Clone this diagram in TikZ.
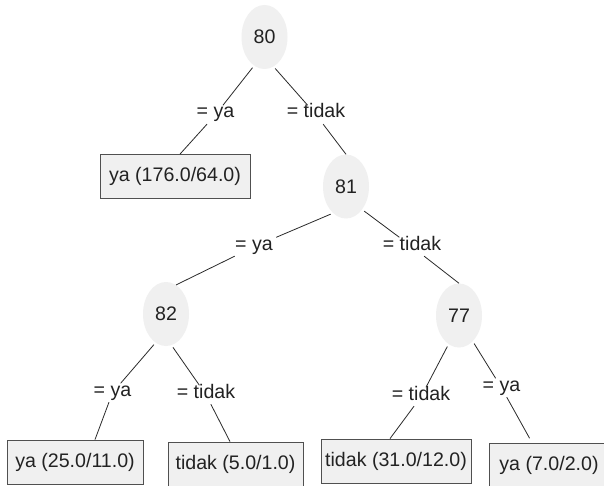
\documentclass[tikz,border=0pt]{standalone}
\usepackage{fontspec}
\setmainfont{Liberation Sans}
\usetikzlibrary{shapes.geometric}
\definecolor{nodefill}{HTML}{F0F0F0}
\definecolor{edgecol}{HTML}{2A2A2A}
\definecolor{boxline}{HTML}{505050}
\definecolor{txt}{HTML}{222222}
\begin{document}
\begin{tikzpicture}[x=1pt,y=-1pt,
  every node/.style={font=\fontsize{19.6}{23}\selectfont, text=txt},
  attr/.style={ellipse, fill=nodefill, minimum width=46pt, minimum height=64pt, inner sep=0pt},
  leaf/.style={rectangle, draw=boxline, fill=nodefill, line width=0.8pt, minimum height=44pt, inner sep=0pt},
  elabel/.style={inner xsep=4pt, inner ysep=5pt, text height=0.75em, text depth=0.1em, anchor=base},
  conn/.style={draw=edgecol, line width=0.8pt}]
\useasboundingbox (0,0) rectangle (604,486);
\fill[white] (0,0) rectangle (604,486);
\clip (0,0) rectangle (604,486);
% decision nodes
\node[attr] (n80) at (264.5,37) {80};
\node[attr] (n81) at (346,186.5) {81};
\node[attr] (n82) at (166,314) {82};
\node[attr] (n77) at (459,315.5) {77};
% leaves
\node[leaf, minimum width=150pt] (b1) at (175,176.5) {ya (176.0/64.0)};
\node[leaf, minimum width=136pt] (b2) at (75,462) {ya (25.0/11.0)};
\node[leaf, minimum width=135pt] (b3) at (235.5,464) {tidak (5.0/1.0)};
\node[leaf, minimum width=150pt] (b4) at (396,461) {tidak (31.0/12.0)};
\node[leaf, minimum width=120pt] (b5) at (549,465) {ya (7.0/2.0)};
% edge labels
\node[elabel] (l1) at (215.5,118) {= ya};
\node[elabel] (l2) at (316,118) {= tidak};
\node[elabel] (l3) at (254,250) {= ya};
\node[elabel] (l4) at (412,250) {= tidak};
\node[elabel] (l5) at (112.5,396) {= ya};
\node[elabel] (l6) at (206,398) {= tidak};
\node[elabel] (l7) at (421,400) {= tidak};
\node[elabel] (l8) at (501.5,391) {= ya};
% connectors
\draw[conn, shorten <=2.5pt] (n80.250) -- (l1);
\draw[conn] (l1) -- ([xshift=5pt]b1.north);
\draw[conn, shorten <=2.5pt] (n80.287) -- (l2);
\draw[conn] (l2) -- (n81.north);
\draw[conn, shorten <=2.5pt] (n81.244) -- (l3);
\draw[conn] (l3) -- (n82.71);
\draw[conn, shorten <=2.5pt] (n81.305) -- (l4);
\draw[conn] (l4) -- (n77.north);
\draw[conn, shorten <=2.5pt] (n82.250) -- (l5);
\draw[conn] (l5) -- ([xshift=20pt]b2.north);
\draw[conn, shorten <=2.5pt] (n82.280) -- (l6);
\draw[conn] (l6) -- ([xshift=-5.5pt]b3.north);
\draw[conn, shorten <=2.5pt] (n77.250) -- (l7);
\draw[conn] (l7) -- ([xshift=-6pt]b4.north);
\draw[conn, shorten <=2.5pt] (n77.298) -- (l8);
\draw[conn, shorten >=5pt] (l8) -- ([xshift=-17pt]b5.north);
\end{tikzpicture}
\end{document}
